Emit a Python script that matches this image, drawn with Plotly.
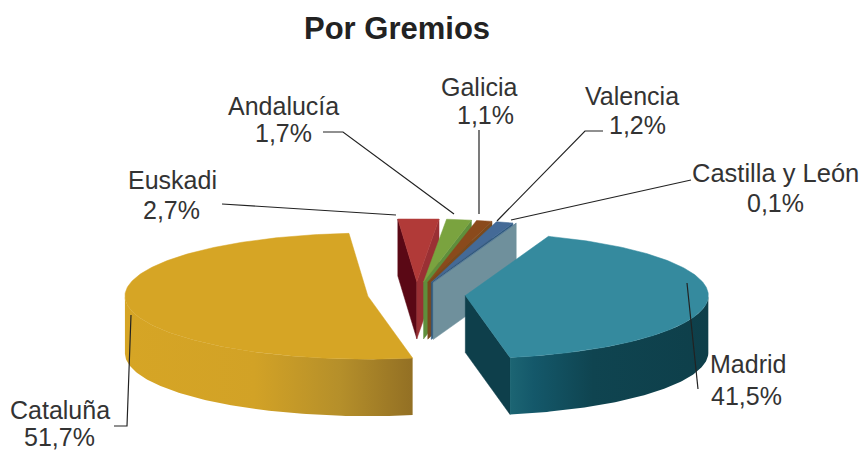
import numpy as np
import plotly.graph_objects as go

categories = ["Madrid", "Cataluña", "Euskadi", "Andalucía", "Galicia", "Valencia", "Castilla y León"]
shares = [41.5, 51.7, 2.7, 1.7, 1.1, 1.2, 0.1]
title_text = "Por Gremios"

top_colors = ["#358a9e", "#d6a525", "#b13a38", "#7aa33f", "#8a4a1c", "#446a97", "#5c7f9a"]
cut_colors = {
    "Madrid": ("#0e3f4b", "#0e3f4b"), "Cataluña": ("#a07a25", "#a07a25"),
    "Euskadi": ("#5a0815", "#9a3034"), "Andalucía": ("#5e8a3c", "#5f8f3c"),
    "Galicia": ("#7a4a1e", "#7a4a1e"), "Valencia": ("#2f5a80", "#2f5a80"),
    "Castilla y León": ("#6f909c", "#6f909c"),
}
wall_gradients = {
    "Madrid": ([[0, "#1c6573"], [0.12, "#14586a"], [0.42, "#0f4450"], [1, "#0e3f4a"]], 510, 708),
    "Cataluña": ([[0, "#d6a525"], [0.45, "#d2a226"], [0.75, "#b58f2a"], [1, "#937024"]], 125, 412),
}

# pie projection
X0, Y0, RX, RY, DEPTH, EXPLODE = 416.5, 294.5, 243.0, 63.0, 57.0, 49.0
START_ANGLE = 70.0

fig = go.Figure()


def poly(xs, ys, color=None, gradient=None):
    kw = dict(x=list(xs), y=list(ys), mode="lines", fill="toself", hoverinfo="skip", showlegend=False)
    if gradient:
        scale, a, b = gradient
        kw["fillgradient"] = dict(type="horizontal", colorscale=scale, start=a, stop=b)
        kw["line"] = dict(width=0)
    else:
        kw["fillcolor"] = color
        kw["line"] = dict(color=color, width=0.5)
    fig.add_trace(go.Scatter(**kw))


def ell(cx, cy, deg):
    r = np.radians(deg)
    return cx + RX * np.cos(r), cy - RY * np.sin(r)


def slice_geometry(t0, t1):
    mid = np.radians((t0 + t1) / 2)
    return X0 + EXPLODE * np.cos(mid), Y0 - EXPLODE * RY / RX * np.sin(mid)


t = START_ANGLE
spans = {}
for name, s in zip(categories, shares):
    spans[name] = (t, t - s * 3.6)
    t -= s * 3.6

order = ["Euskadi", "Andalucía", "Galicia", "Valencia", "Castilla y León", "Cataluña", "Madrid"]
for name in order:
    t0, t1 = spans[name]
    i = categories.index(name)
    cx, cy = slice_geometry(t0, t1)
    c_start, c_end = cut_colors[name]
    # straight cut walls
    for angle, normal, col in ((t0, t0 + 90, c_start), (t1, t1 - 90, c_end)):
        if np.sin(np.radians(normal)) < 0:
            px, py = ell(cx, cy, angle)
            poly([cx, px, px, cx, cx], [cy, py, py + DEPTH, cy + DEPTH, cy], col)
    # curved outer wall (front half only)
    front = [a for a in np.linspace(t0, t1, 200) if np.sin(np.radians(a)) < 0]
    if front:
        ax, ay = ell(cx, cy, np.array(front))
        poly(np.r_[ax, ax[::-1]], np.r_[ay, ay[::-1] + DEPTH], gradient=wall_gradients.get(name))
    # top face
    arc = np.linspace(t0, t1, 200)
    ax, ay = ell(cx, cy, arc)
    poly(np.r_[cx, ax, cx], np.r_[cy, ay, cy], top_colors[i])

# label layout: name position, value position, leader polyline (page pixels)
label_layout = {
    "Euskadi": ((172, 180), (171, 210), [(222, 204), (396, 215)]),
    "Andalucía": ((283, 106), (283, 133), [(323, 132), (343, 132), (454, 214)]),
    "Galicia": ((479, 87), (485, 115), [(479, 130), (479, 214)]),
    "Valencia": ((632, 96), (637, 125), [(603, 131), (585, 131), (497, 221)]),
    "Castilla y León": ((775, 173), (775, 203), [(691, 180), (511, 220)]),
    "Madrid": ((748, 364), (746, 396), [(687, 283), (698, 389)]),
    "Cataluña": ((60, 410), (59, 437), [(114, 426), (127, 426), (131, 315)]),
}

FONT = "Liberation Sans, Arial, sans-serif"
for name, s in zip(categories, shares):
    (nx, ny), (vx, vy), path = label_layout[name]
    fig.add_trace(go.Scatter(x=[p[0] for p in path], y=[p[1] for p in path], mode="lines",
                             line=dict(color="#222222", width=1.2), hoverinfo="skip", showlegend=False))
    for txt, (x, y) in ((name, (nx, ny)), (f"{s:.1f}".replace(".", ",") + "%", (vx, vy))):
        size = 25.5 if name == "Castilla y León" and txt == name else 25
        fig.add_annotation(x=x, y=y, text=txt, showarrow=False, xanchor="center", yanchor="middle",
                           font=dict(family=FONT, size=size, color="#333333"))

fig.add_annotation(x=397, y=28, text=f"<b>{title_text}</b>", showarrow=False, xanchor="center", yanchor="middle",
                   font=dict(family=FONT, size=31, color="#222222"))

fig.update_layout(
    width=861, height=451, margin=dict(l=0, r=0, t=0, b=0),
    paper_bgcolor="white", plot_bgcolor="white", showlegend=False,
    xaxis=dict(range=[0, 861], visible=False, fixedrange=True),
    yaxis=dict(range=[451, 0], visible=False, fixedrange=True),
)
fig.write_html("out.html", config=dict(displayModeBar=False),
               post_script="document.body.style.margin='0';document.documentElement.style.overflow='hidden';")
